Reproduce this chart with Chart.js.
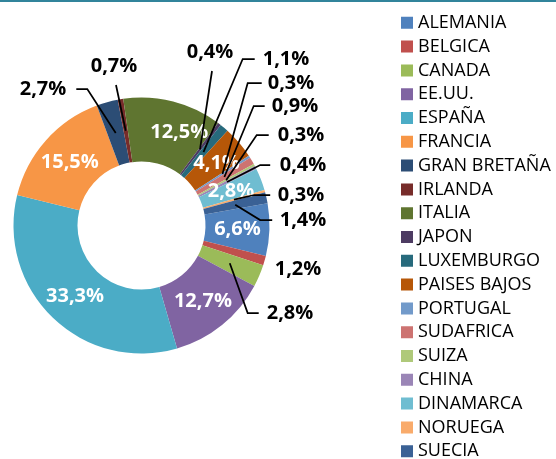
<!DOCTYPE html>
<html>
<head>
<meta charset="utf-8">
<script src="https://cdn.jsdelivr.net/npm/chart.js@4.4.1/dist/chart.umd.min.js"></script>
<style>
html, body { margin: 0; padding: 0; background: #fff; overflow: hidden; }
#wrap { position: relative; width: 556px; height: 470px; }
#topline { position: absolute; left: 0; top: 0; width: 556px; height: 2px; background: #31849B; }
</style>
</head>
<body>
<div id="wrap"><canvas id="c" width="556" height="470"></canvas><div id="topline"></div></div>
<script>
// ---- data ----
const categories = ['ALEMANIA','BELGICA','CANADA','EE.UU.','ESPAÑA','FRANCIA','GRAN BRETAÑA','IRLANDA','ITALIA','JAPON','LUXEMBURGO','PAISES BAJOS','PORTUGAL','SUDAFRICA','SUIZA','CHINA','DINAMARCA','NORUEGA','SUECIA'];
const shares = [6.6, 1.2, 2.8, 12.7, 33.3, 15.5, 2.7, 0.7, 12.5, 0.4, 1.1, 4.1, 0.3, 0.9, 0.3, 0.4, 2.8, 0.3, 1.4];

// ---- styles ----
const colors = ['#4F81BD','#C0504D','#9BBB59','#8064A2','#4BACC6','#F79646','#2C4D75','#772C2A','#5F7530','#4D3B62','#276A7C','#B65708','#729ACA','#CD7371','#AFC97A','#9A85B6','#6FBDD1','#F9AB6B','#3A6195'];

// label placement: inside labels offset from slice centroid; outside labels offset from doughnut centre
const labelPlacement = [
  {inside: true, dx: 0, dy: 1},
  {inside: false, dx: 156.5, dy: 43.5, lead: 'none'},
  {inside: false, dx: 148.5, dy: 87.5, lead: 'left', gap: 8, elbow: 11},
  {inside: true, dx: 1, dy: 1},
  {inside: true, dx: 0, dy: 2},
  {inside: true, dx: 0, dy: 1},
  {inside: false, dx: -98.5, dy: -136.5, lead: 'right', gap: 10, elbow: 11},
  {inside: false, dx: -27.5, dy: -159.5, lead: 'below'},
  {inside: true, dx: 14, dy: 0},
  {inside: false, dx: 68.5, dy: -173.5, lead: 'below'},
  {inside: false, dx: 144.5, dy: -166.5, lead: 'left', gap: 8, elbow: 12},
  {inside: true, dx: 2, dy: 0},
  {inside: false, dx: 149.5, dy: -142.5, lead: 'left', gap: 6, elbow: 14},
  {inside: false, dx: 153.5, dy: -119.5, lead: 'left', gap: 7, elbow: 11},
  {inside: false, dx: 159.5, dy: -90.5, lead: 'left', gap: 9, elbow: 12},
  {inside: false, dx: 161.5, dy: -60.5, lead: 'left', gap: 9.5, elbow: 10},
  {inside: true, dx: 0, dy: 0},
  {inside: false, dx: 159.5, dy: -30.5, lead: 'left', gap: 7.5, elbow: 16},
  {inside: false, dx: 161.5, dy: -5.5, lead: 'left', gap: 7.5, elbow: 12}
];

const PLOT = {cx: 141.5, cy: 225.5, r: 128};

const placeDoughnut = {
  id: 'placeDoughnut',
  afterLayout(chart) {
    chart.chartArea = {
      left: PLOT.cx - PLOT.r, right: PLOT.cx + PLOT.r,
      top: PLOT.cy - PLOT.r, bottom: PLOT.cy + PLOT.r,
      width: 2 * PLOT.r, height: 2 * PLOT.r
    };
  }
};

const sliceLabels = {
  id: 'sliceLabels',
  afterDatasetsDraw(chart) {
    const ctx = chart.ctx;
    const meta = chart.getDatasetMeta(0);
    const cx = meta.data[0].x, cy = meta.data[0].y;
    ctx.save();
    ctx.font = 'bold 20px "Open Sans"';
    ctx.textBaseline = 'middle';
    ctx.textAlign = 'center';
    meta.data.forEach((arc, i) => {
      const txt = shares[i].toFixed(1).replace('.', ',') + '%';
      const p = labelPlacement[i];
      const c = arc.tooltipPosition(true);
      if (p.inside) {
        ctx.fillStyle = '#ffffff';
        ctx.fillText(txt, c.x + p.dx, c.y + p.dy);
        return;
      }
      const tx = cx + p.dx, ty = cy + p.dy;
      ctx.fillStyle = '#000000';
      ctx.fillText(txt, tx, ty);
      if (p.lead === 'none') return;
      const w = ctx.measureText(txt).width;
      ctx.beginPath();
      ctx.strokeStyle = '#000000';
      ctx.lineWidth = 1.75;
      if (p.lead === 'left') {
        const sx = tx - w / 2 - p.gap;
        ctx.moveTo(sx, ty);
        ctx.lineTo(sx - p.elbow, ty);
      } else if (p.lead === 'right') {
        const sx = tx + w / 2 + p.gap;
        ctx.moveTo(sx, ty);
        ctx.lineTo(sx + p.elbow, ty);
      } else {
        ctx.moveTo(tx + 2, ty + 19);
      }
      ctx.lineTo(c.x, c.y);
      ctx.stroke();
    });
    ctx.restore();
  }
};

new Chart(document.getElementById('c'), {
  type: 'doughnut',
  data: {
    labels: categories,
    datasets: [{
      data: shares,
      backgroundColor: colors,
      borderWidth: 0,
      clip: false
    }]
  },
  options: {
    responsive: false,
    animation: false,
    events: [],
    rotation: 80,
    cutout: '50%',
    layout: {padding: {top: 8}},
    plugins: {
      tooltip: {enabled: false},
      legend: {
        position: 'right',
        align: 'start',
        maxWidth: 156.8,
        labels: {
          usePointStyle: true,
          pointStyle: 'rect',
          boxWidth: 4,
          boxHeight: 12,
          padding: 5.8,
          color: '#000000',
          font: {family: '"Open Sans"', size: 18},
          generateLabels(chart) {
            const base = Chart.overrides.doughnut.plugins.legend.labels.generateLabels(chart);
            return base.map(l => Object.assign(l, {lineWidth: 0, strokeStyle: l.fillStyle}));
          }
        }
      }
    }
  },
  plugins: [placeDoughnut, sliceLabels]
});
</script>
</body>
</html>
